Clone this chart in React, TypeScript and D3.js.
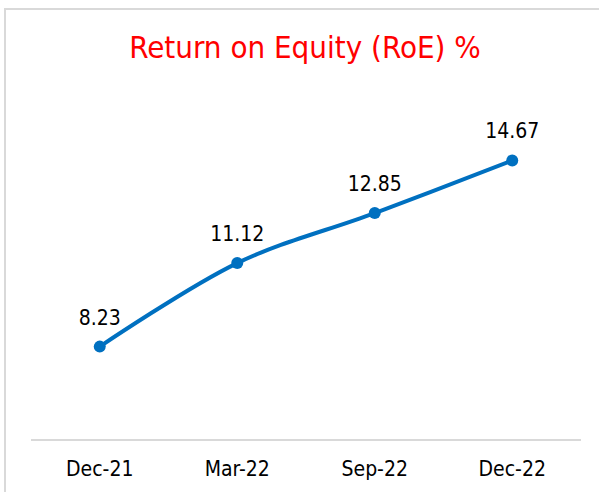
import React from "react";
import * as d3 from "d3";

const periods = ["Dec-21", "Mar-22", "Sep-22", "Dec-22"];
const roe = [8.23, 11.12, 12.85, 14.67];

const W = 599;
const H = 492;
const FONT = "'DejaVu Sans Condensed', 'DejaVu Sans', sans-serif";

const App = () => {
  const x = d3.scaleBand<string>().domain(periods).range([31, 581]);
  const y = d3.scaleLinear().domain([5, 16]).range([440, 122]);

  const pts = periods.map((p, i) => ({
    cx: (x(p) ?? 0) + x.bandwidth() / 2,
    cy: y(roe[i]),
    v: roe[i],
  }));

  const line = d3
    .line<{ cx: number; cy: number }>()
    .x((d) => d.cx)
    .y((d) => d.cy)
    .curve(d3.curveCatmullRom.alpha(0.5));

  return (
    <svg
      width={W}
      height={H}
      style={{ position: "absolute", left: 0, top: 0, background: "#fff" }}
      fontFamily={FONT}
    >
      {/* chart frame, runs off the right and bottom */}
      <rect x={5} y={9} width={W + 20} height={H + 20} fill="#fff" stroke="#d9d9d9" strokeWidth={2} />
      <text x={305} y={58} textAnchor="middle" fill="#ff0000" fontSize={31}>
        Return on Equity (RoE) %
      </text>
      <line x1={31} x2={581} y1={440} y2={440} stroke="#d9d9d9" strokeWidth={2} />
      {periods.map((p) => (
        <text
          key={p}
          x={(x(p) ?? 0) + x.bandwidth() / 2}
          y={476}
          textAnchor="middle"
          fontSize={21}
          fill="#000"
        >
          {p}
        </text>
      ))}
      <path d={line(pts) ?? ""} fill="none" stroke="#0070c0" strokeWidth={4} strokeLinecap="round" />
      {pts.map((d, i) => (
        <g key={i}>
          <circle cx={d.cx} cy={d.cy} r={6} fill="#0070c0" />
          <text x={d.cx} y={d.cy - 22} textAnchor="middle" fontSize={21} fill="#000">
            {d.v.toFixed(2)}
          </text>
        </g>
      ))}
    </svg>
  );
};

export default App;
